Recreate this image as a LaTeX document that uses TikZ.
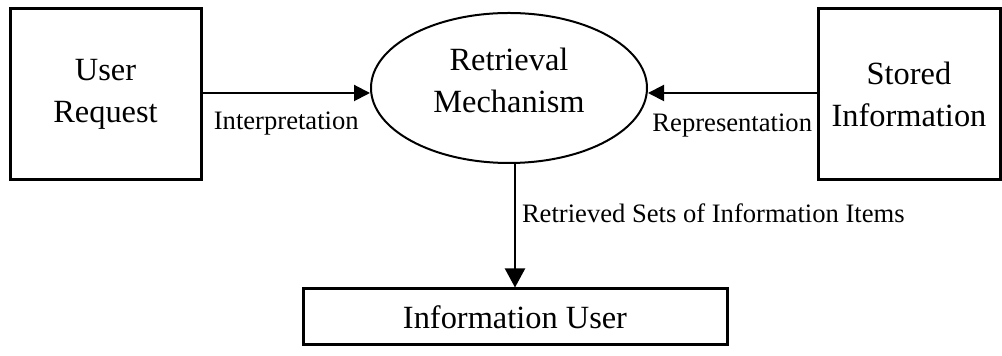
\documentclass[tikz,border=0pt]{standalone}
\usepackage{fontspec}
\setmainfont{Liberation Serif}
\usetikzlibrary{arrows.meta}
\usetikzlibrary{shapes.geometric}
\newcommand{\boxfont}{\fontsize{16.2pt}{21pt}\selectfont}
\newcommand{\flowfont}{\fontsize{13.3pt}{16pt}\selectfont}

\begin{document}
\begin{tikzpicture}[x=0.5pt,y=-0.5pt,
    agent/.style={draw, line width=1.5pt, align=center, font=\boxfont, inner sep=0pt},
    mechanism/.style={draw, ellipse, line width=1pt, minimum width=138pt, minimum height=75pt, inner sep=0pt},
    flow/.style={line width=1pt, -{Triangle[length=8pt,width=8pt]}},
    flowlabel/.style={font=\flowfont, inner sep=2pt}]
  \useasboundingbox (0,0) rectangle (1002,356);

  % ----- BOXES AND ELLIPSE -----
  \node[agent, minimum width=95.5pt, minimum height=85.5pt] (request) at (105.5,94.5) {User\\Request};
  \node[agent, minimum width=91pt, minimum height=85.5pt] (stored) at (909,94.5) {Stored\\Information};
  \node[mechanism] (mech) at (509,88) {};
  \node[align=center, font=\boxfont, inner sep=0pt] (mechtext) at (509,80) {Retrieval\\Mechanism};
  \node[agent, minimum width=212pt, minimum height=28pt] (infouser) at (515,317) {Information User};

  % ----- FLOWS -----
  \draw[flow] (request.east |- 0,93) -- node[flowlabel, below=7pt] (interp) {Interpretation} (mech.west |- 0,93);
  \draw[flow] (stored.west |- 0,93) -- node[flowlabel, below=8pt] (repr) {Representation} (mech.east |- 0,93);
  \draw[flow, -{Triangle[length=9.5pt,width=10pt]}] (mech.south -| infouser.north) -- node[flowlabel, pos=0.4, right=1pt] (retrieved) {Retrieved Sets of Information Items} (infouser.north);
\end{tikzpicture}
\end{document}
